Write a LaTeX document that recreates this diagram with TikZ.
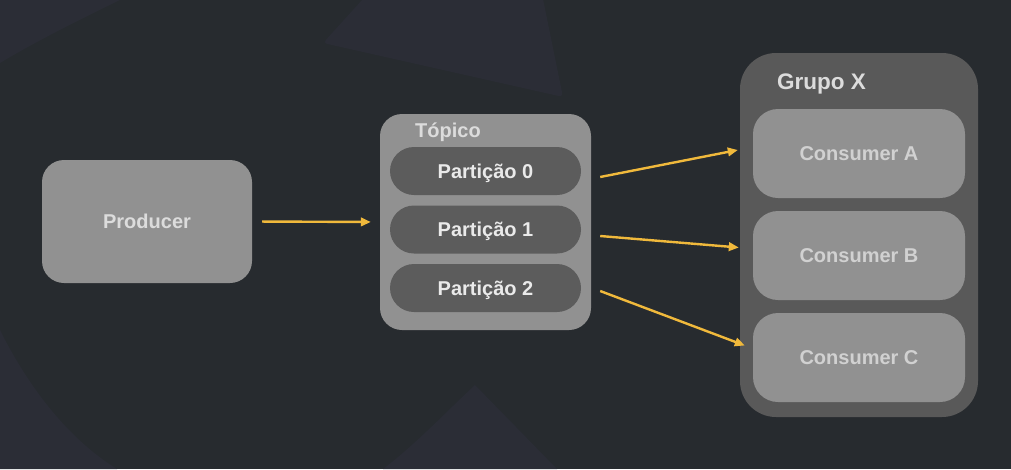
\documentclass[tikz,border=0pt]{standalone}
\usepackage{fontspec}
\setmainfont{Liberation Sans}
\usetikzlibrary{%
        arrows.meta
    }
\definecolor{bgdark}{RGB}{39, 43, 47}
\definecolor{bglight}{RGB}{43, 45, 54}
\definecolor{boxlight}{RGB}{145, 145, 145}
\definecolor{boxdark}{RGB}{92, 92, 92}
\definecolor{txtlight}{RGB}{220, 220, 220}
\definecolor{flowyellow}{RGB}{240, 185, 60}
\tikzset{%
    block/.style={%
        rectangle, rounded corners=#1, inner sep=0pt, text depth=0pt,
        font=\fontsize{20}{24}\selectfont\bfseries, text=txtlight
    },
    container/.style={%
        block=#1, fill=boxlight
    },
    partition/.style={%
        block=24pt, fill=boxdark, text=txtlight!60!white,
        minimum width=191pt, minimum height=48pt
    },
    consumer/.style={%
        block=25pt, fill=boxlight, text=txtlight!95!black,
        minimum width=212pt, minimum height=89pt
    },
    caption/.style={%
        anchor=base west, inner sep=0pt, text=txtlight,
        font=\fontsize{#1}{24}\selectfont\bfseries
    },
    flow/.style={%
        -{Triangle[length=10pt, width=8.5pt]}, draw=flowyellow,
        line width=2.4pt
    }
}

\begin{document}
\begin{tikzpicture}[x=1pt, y=-1pt]

    % Background
    \useasboundingbox (0, 0) rectangle (1011, 469);
    \fill[bgdark] (0, 0) rectangle (1011, 469);
    \begin{scope}
        \clip (0, 0) rectangle (1011, 469);
        \fill[bglight] (0, 0) -- (120, 0)
            .. controls (75, 22) and (35, 42) .. (0, 63) -- cycle;
        \fill[bglight, rounded corners=4pt]
            (323, 43) -- (563, 97) -- (510, -163) -- cycle;
        \fill[bglight] (0, 330)
            .. controls (30, 390) and (70, 440) .. (117, 469) -- (0, 469) -- cycle;
        \fill[bglight] (383, 469)
            .. controls (415, 445) and (450, 408) .. (475, 385)
            -- (557, 469) -- cycle;
    \end{scope}

    % Producer
    \node[container=22pt, minimum width=210pt, minimum height=123pt]
        (producer) at (147, 221.5) {Producer};

    % Topic with its partitions
    \node[container=22pt, minimum width=211pt, minimum height=216pt]
        (topico) at (485.5, 222) {};
    \node[caption=20] (topicolabel) at (415, 137) {Tópico};
    \node[partition] (part0) at (485.5, 171) {Partição 0};
    \node[partition] (part1) at (485.5, 229.5) {Partição 1};
    \node[partition] (part2) at (485.5, 288) {Partição 2};

    % Consumer group
    \node[block=36pt, fill=boxdark!97!black, minimum width=238pt,
        minimum height=364pt] (grupo) at (859, 235) {};
    \node[caption=22.5] (grupolabel) at (777, 89) {Grupo X};
    \node[consumer] (consA) at (859, 153.5) {Consumer A};
    \node[consumer] (consB) at (859, 255.5) {Consumer B};
    \node[consumer] (consC) at (859, 357.5) {Consumer C};

    \draw[flow, shorten <=10pt, shorten >=9pt]
        (producer.east) -- (topico.west);
    \draw[flow]
        ([xshift=19pt, yshift=-6pt]part0.east)
        -- ([xshift=-2pt, yshift=3.5pt]consA.west -| grupo.west);
    \draw[flow]
        ([xshift=19pt, yshift=-6.5pt]part1.east)
        -- ([xshift=-1pt, yshift=8pt]consB.west -| grupo.west);
    \draw[flow]
        ([xshift=19pt, yshift=-3pt]part2.east)
        -- ([xshift=5pt, yshift=12pt]consC.west -| grupo.west);

\end{tikzpicture}
\end{document}
